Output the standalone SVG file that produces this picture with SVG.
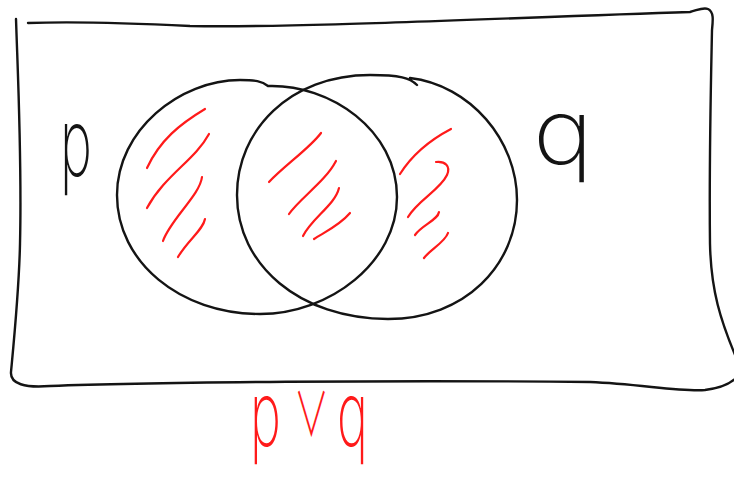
<svg xmlns="http://www.w3.org/2000/svg" width="734" height="488" viewBox="0 0 734 488">
<style>
.ink{fill:none;stroke:#141414;stroke-width:2.4;stroke-linecap:round;stroke-linejoin:round}
.red{fill:none;stroke:#ff1a1a;stroke-width:2.2;stroke-linecap:round;stroke-linejoin:round}
.lbl{font-family:Inter,"Noto Sans","Liberation Sans",sans-serif;font-weight:200}
.op{font-family:"Noto Sans CJK SC","DejaVu Sans",sans-serif;font-weight:300}
</style>
<rect width="734" height="488" fill="#ffffff"/>
<g id="frame">
<path class="ink" d="M16,19 C18,80 22,160 20,244 C19,290 14,340 11,372 C10,384 25,388 50,386 C150,382 400,380 590,382 C640,384 680,392 705,390 C722,388 732,383 738,376"/>
<path class="ink" d="M28,23 C80,21 150,24 190,26 C300,28 500,18 690,12 C698,10 703,7 708,9 C714,12 713,20 712,30 C711,80 709,160 710,244 C711,290 720,320 738,362"/>
</g>
<g id="set-p">
<path class="ink" d="M268,86 C330,84 397,130 397,197 C397,262 330,314 260,314 C180,314 117,262 117,195 C117,130 180,80 240,80 C255,80 262,81 268,86"/>
</g>
<g id="set-q">
<path class="ink" d="M417,85 C410,78 400,75 370,75 C290,75 237,130 237,195 C237,265 300,319 388,319 C465,319 517,265 517,200 C517,140 470,85 410,78"/>
</g>
<g id="shading">
<path class="red" d="M147,168 C160,140 180,124 205,109"/>
<path class="red" d="M147,208 C165,175 195,160 209,134"/>
<path class="red" d="M163,241 C170,220 200,195 202,177"/>
<path class="red" d="M178,257 C188,240 203,230 205,219"/>
<path class="red" d="M269,182 C285,165 310,148 321,133"/>
<path class="red" d="M289,214 C300,198 325,182 336,161"/>
<path class="red" d="M303,236 C312,218 335,205 339,188"/>
<path class="red" d="M314,239 C325,232 340,225 350,213"/>
<path class="red" d="M400,174 C412,155 430,140 451,129"/>
<path class="red" d="M436,162 C445,161 451,166 447,175 C440,190 418,200 408,217"/>
<path class="red" d="M415,235 C422,225 438,220 439,212"/>
<path class="red" d="M424,258 C430,250 445,242 448,233"/>
</g>
<g id="label-p">
<text class="lbl" transform="translate(60,176) scale(0.6,1.05)" font-size="90" fill="#141414">p</text>
</g>
<g id="label-q">
<text class="lbl" x="533" y="164" font-size="90" fill="#141414" textLength="60" lengthAdjust="spacingAndGlyphs">q</text>
</g>
<g id="label-pvq">
<text class="lbl" transform="translate(250,446) scale(0.58,1)" font-size="90" fill="#ff1a1a"><tspan x="0">p</tspan><tspan class="op" x="76" dy="-10" font-size="60">∨</tspan><tspan x="150" dy="10">q</tspan></text>
</g>
</svg>
